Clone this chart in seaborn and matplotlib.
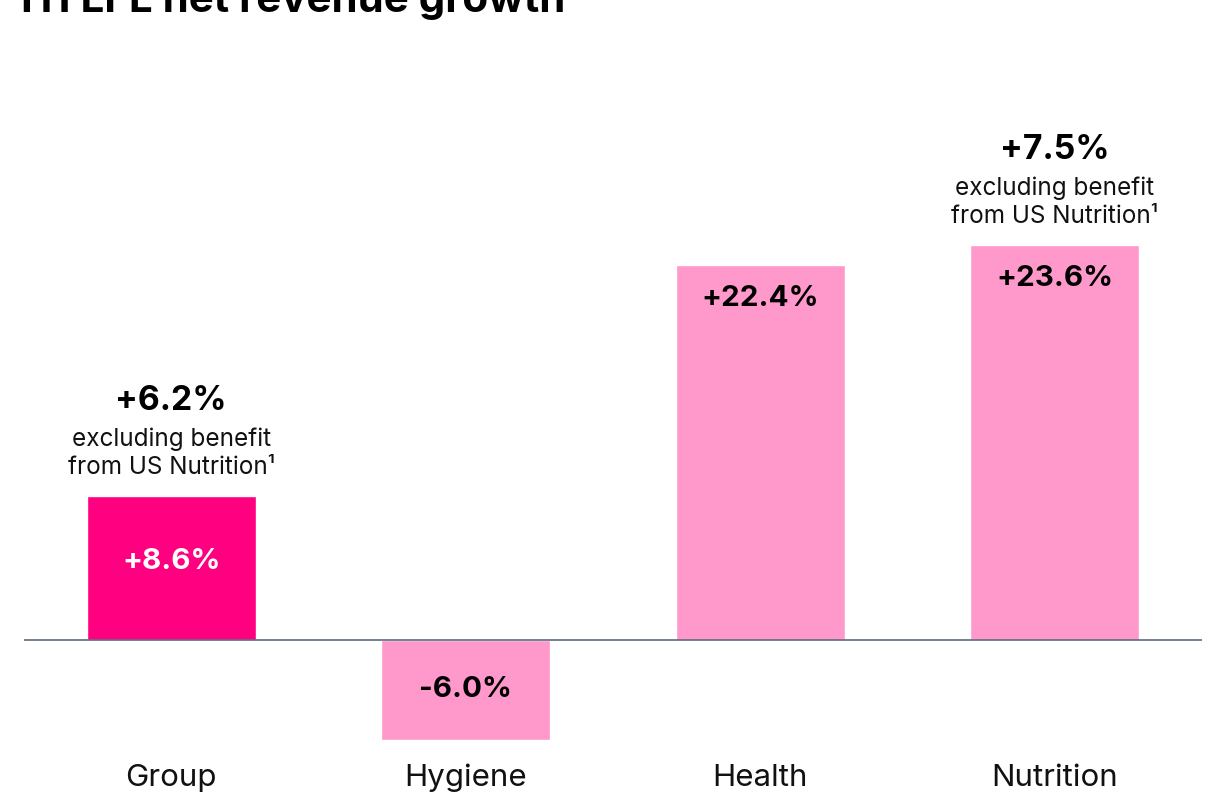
import matplotlib
matplotlib.use("Agg")
import matplotlib.pyplot as plt
import seaborn as sns
import pandas as pd

# Chart data
categories = ["Group", "Hygiene", "Health", "Nutrition"]
growth = [8.6, -6.0, 22.4, 23.6]
bar_labels = ["+8.6%", "-6.0%", "+22.4%", "+23.6%"]
excl_labels = ["+6.2%", None, None, "+7.5%"]
excl_note = ["excluding benefit", "from US Nutrition\u00b9"]
title = "H1 LFL net revenue growth"

sns.set_theme(style="white")
plt.rcParams["font.family"] = ["Inter", "DejaVu Sans"]

W, H, DPI = 1207, 793, 100
fig = plt.figure(figsize=(W / DPI, H / DPI), dpi=DPI)

# axes placement in pixels
ax_left, ax_right = 24, 1202
ax_bottom_px, ax_top_px = 750, 0   # measured from top of figure
zero_px = 639.5
px_per_unit = 16.7

ax = fig.add_axes([ax_left / W, (H - ax_bottom_px) / H,
                   (ax_right - ax_left) / W, (ax_bottom_px - ax_top_px) / H])

df = pd.DataFrame({"category": categories, "growth": growth})
colors = {"Group": "#FF0080", "Hygiene": "#FF99CC",
          "Health": "#FF99CC", "Nutrition": "#FF99CC"}
sns.barplot(data=df, x="category", y="growth", hue="category",
            palette=colors, legend=False, width=0.574, saturation=1,
            ax=ax)

ax.set_xlim(-0.5, 3.5)
ax.set_ylim(-(ax_bottom_px - zero_px) / px_per_unit,
            (zero_px - ax_top_px) / px_per_unit)
ax.axhline(0, color="#5B6B7E", lw=1.2, zorder=3)

sns.despine(ax=ax, left=True, bottom=True)
ax.set_yticks([])
ax.set_xlabel("")
ax.set_ylabel("")
ax.tick_params(axis="x", length=0, pad=10, labelsize=22.5)
for lbl in ax.get_xticklabels():
    lbl.set_color("#111111")

pt = 72 / DPI  # points per pixel

# value labels inside bars
for i, (v, txt) in enumerate(zip(growth, bar_labels)):
    color = "white" if i == 0 else "black"
    if abs(v) < 12:
        lift = 6 * pt if v > 0 else 0
        ax.annotate(txt, (i, v / 2), xytext=(0, lift),
                    textcoords="offset points", ha="center", va="center",
                    fontsize=21.3, fontweight="bold", color=color)
    else:
        ax.annotate(txt, (i, v), xytext=(0, -33 * pt),
                    textcoords="offset points", ha="center", va="center",
                    fontsize=21.3, fontweight="bold", color=color)

# "excluding benefit" annotations above bars
for i, (v, txt) in enumerate(zip(growth, excl_labels)):
    if txt is None:
        continue
    ax.annotate(txt, (i, v), xytext=(0, 86 * pt), textcoords="offset points",
                ha="center", va="baseline", fontsize=24.3, fontweight="bold",
                color="black")
    ax.annotate(excl_note[0], (i, v), xytext=(0, 50 * pt),
                textcoords="offset points", ha="center", va="baseline",
                fontsize=17.5, color="#111111")
    ax.annotate(excl_note[1], (i, v), xytext=(0, 22 * pt),
                textcoords="offset points", ha="center", va="baseline",
                fontsize=17.5, color="#111111")

fig.text(21 / W, (H - 12) / H, title, ha="left", va="baseline",
         fontsize=30.3, fontweight="bold", color="black")

fig.savefig("out.png", dpi=DPI, facecolor="white")
